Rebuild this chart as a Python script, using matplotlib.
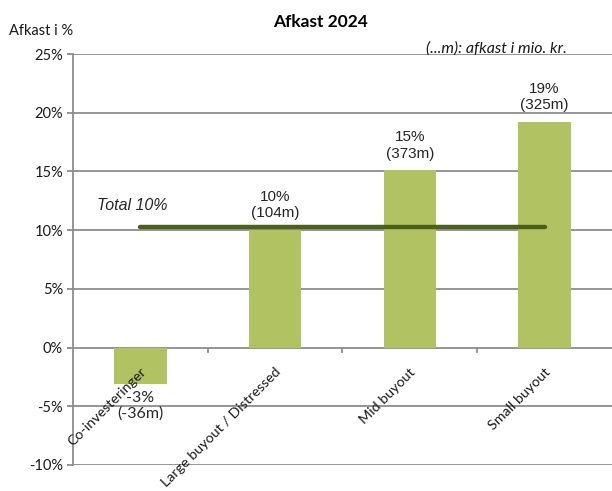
import matplotlib
matplotlib.use("Agg")
from matplotlib import pyplot as plt

categories = ["Co-investeringer", "Large buyout / Distressed", "Mid buyout", "Small buyout"]
returns_pct = [-3.1, 10.0, 15.1, 19.2]
returns_mio = ["-36m", "104m", "373m", "325m"]
pct_labels = ["-3%", "10%", "15%", "19%"]
total_pct = 10.3
total_label = "Total 10%"
yticks = [-10, -5, 0, 5, 10, 15, 20, 25]

fig = plt.figure(figsize=(6.12, 4.91), dpi=100)
ax = fig.add_axes([0.119, 0.053, 0.881, 0.837])

ax.set_ylim(-10, 25)
ax.set_xlim(-0.5, 3.5)

# grid
for y in yticks:
    ax.axhline(y, color="#8c8c8c", lw=1.3, zorder=1)

x = list(range(len(categories)))
ax.bar(x, returns_pct, width=0.39, color="#b1c262", zorder=2)

# total line across the categories
ax.plot([x[0], x[-1]], [total_pct, total_pct], color="#4b6119", lw=3.2,
        solid_capstyle="round", zorder=3)
ax.text(-0.32, total_pct + 1.15, total_label, style="italic", fontsize=11.5,
        family="Liberation Sans", color="#262626", ha="left", va="bottom")

# value labels
for i, v in enumerate(returns_pct):
    txt = pct_labels[i] + "\n(" + returns_mio[i] + ")"
    if v >= 0:
        ax.annotate(txt, (i, v), xytext=(0, 7), textcoords="offset points",
                    ha="center", va="bottom", fontsize=11, family="Liberation Sans",
                    color="#262626", linespacing=1.2)
    else:
        ax.annotate(txt, (i, v), xytext=(0, -5), textcoords="offset points",
                    ha="center", va="top", fontsize=11.5, family="Lato",
                    color="#262626", linespacing=1.15)

# category labels at the zero line
for i, c in enumerate(categories):
    ax.annotate(c, (i, 0), xytext=(-0.5, -13), textcoords="offset points",
                rotation=45, rotation_mode="anchor", ha="right", va="top",
                fontsize=10.3, family="Lato", color="#1a1a1a")

# small ticks between categories on the zero line
for b in [0.5, 1.5, 2.5]:
    ax.plot([b, b], [0, -0.35], color="#8c8c8c", lw=1.3, zorder=1)

ax.set_xticks([])
ax.set_yticks(yticks)
ax.set_yticklabels([str(t) + "%" for t in yticks], fontsize=10.5, family="Lato",
                   color="#1a1a1a")
ax.tick_params(axis="y", length=4, color="#8c8c8c", width=1.3, pad=3)
for s in ["top", "right", "bottom"]:
    ax.spines[s].set_visible(False)
ax.spines["left"].set_color("#8c8c8c")
ax.spines["left"].set_linewidth(1.3)

fig.text(0.523, 0.955, "Afkast 2024", ha="center", va="center", fontsize=12.5,
         fontweight="bold", family="Lato")
fig.text(0.014, 0.937, "Afkast i %", ha="left", va="center", fontsize=10.5,
         family="Lato", color="#1a1a1a")
fig.text(0.926, 0.902, "(...m): afkast i mio. kr.", ha="right", va="center",
         fontsize=11.5, style="italic", family="Lato", color="#1a1a1a")

fig.savefig("out.png", dpi=100)
